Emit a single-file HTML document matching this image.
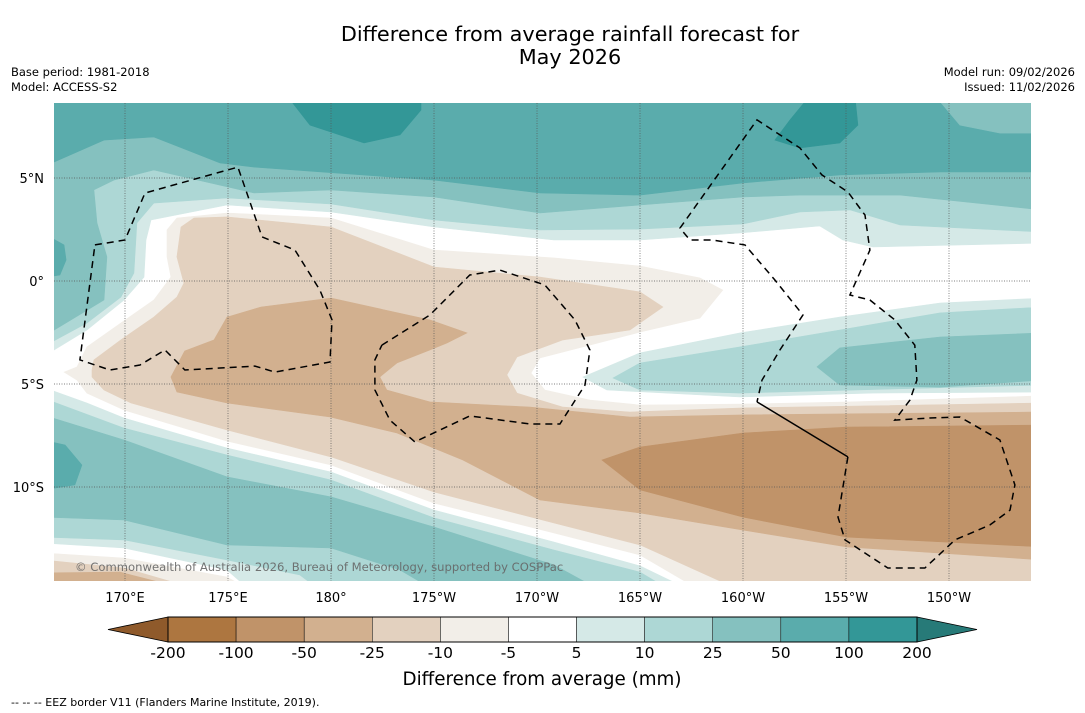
<!DOCTYPE html>
<html><head><meta charset="utf-8"><title>Difference from average rainfall forecast</title>
<style>
html,body{margin:0;padding:0;background:#fff;}
svg{display:block;font-family:"DejaVu Sans","Liberation Sans",sans-serif;}
</style></head>
<body>
<svg id="chart" width="1085" height="713" viewBox="0 0 1085 713" xmlns="http://www.w3.org/2000/svg">
<rect width="1085" height="713" fill="#fff"/>
<text x="570" y="41" font-size="20.8" text-anchor="middle" fill="#000">Difference from average rainfall forecast for</text>
<text x="570" y="64" font-size="20.8" text-anchor="middle" fill="#000">May 2026</text>
<text x="11" y="76" font-size="11.5" fill="#000">Base period: 1981-2018</text>
<text x="11" y="91" font-size="11.5" fill="#000">Model: ACCESS-S2</text>
<text x="1075" y="76" font-size="11.5" text-anchor="end" fill="#000">Model run: 09/02/2026</text>
<text x="1075" y="91" font-size="11.5" text-anchor="end" fill="#000">Issued: 11/02/2026</text>
<defs><clipPath id="mapclip"><rect x="54" y="103" width="977" height="478"/></clipPath></defs>
<g id="map" clip-path="url(#mapclip)"></g>
<g id="axes"></g>
<g id="cbar"></g>
<text x="542" y="685" font-size="18.3" text-anchor="middle" fill="#000">Difference from average (mm)</text>
<text x="11" y="706" font-size="11" fill="#000">--  --  -- EEZ border V11 (Flanders Marine Institute, 2019).</text>
</svg>
<script>
// ---- colour scale data ----
const levels = [-200,-100,-50,-25,-10,-5,5,10,25,50,100,200];
const levelColors = ["#ad7640","#c09369","#d2b08f","#e3d1bf","#f2eee8","#ffffff","#d5e9e7","#add7d5","#85c1bf","#5aacac","#339797"];
const extendLowColor = "#8f5a2b";
const extendHighColor = "#277a78";
const lonTicks = [170,175,180,185,190,195,200,205,210];
const lonTickLabels = ["170°E","175°E","180°","175°W","170°W","165°W","160°W","155°W","150°W"];
const latTicks = [5,0,-5,-10];
const latTickLabels = ["5°N","0°","5°S","10°S"];

// ---- contour regions, [lon(0-360), lat] ----
const north5 = [[166,9],[214.5,9],[214.5,1.84],[206.31,1.65],[204.85,1.99],[203.73,2.67],[199.85,2.33],[195,1.99],[190.82,1.99],[185,2.62],[180,3.35],[174.95,3.69],[171.26,2.96],[171.02,1.99],[170.92,0.19],[169.95,-0.92],[168.15,-2.38],[166,-3.69]];
const north10 = [[166,9],[214.5,9],[214.5,2.38],[207.62,2.72],[205.19,3.45],[202.76,3.35],[200,2.77],[195,2.52],[190.14,2.48],[185,2.96],[180,3.74],[174.95,4.03],[171.4,3.78],[170.58,2.82],[170.43,0.39],[169.8,-0.78],[168.15,-2.04],[166,-3.2]];
const north25 = [[166,9],[214.5,9],[214.5,3.45],[207.62,4.17],[202.76,4.17],[200,4.08],[195,3.69],[190.14,3.3],[185,4.08],[180,4.42],[176.26,4.27],[171.4,5.39],[169.46,4.9],[168.49,4.42],[168.64,2.82],[169.12,1.17],[168.98,-0.92],[166,-2.72]];
const north50 = [[166,9],[214.5,9],[214.5,5.29],[209.56,5.29],[204.7,5.15],[200,4.76],[195,4.17],[190.14,4.27],[185,4.9],[176.26,5.53],[174.61,5.73],[173.01,6.36],[171.4,6.99],[168.98,6.84],[166,5.53]];
const west50 = [[166,2.33],[167.04,1.75],[167.14,1.02],[166.84,0.29],[166,0.15]];
const northEast25 = [[209.32,9],[210.53,7.57],[212.47,7.18],[214.5,7.18],[214.5,9]];
const north100a = [[177.86,9],[178.98,7.57],[181.6,6.7],[183.35,7.09],[184.37,8.3],[184.37,9]];
const north100b = [[203.25,9],[202.28,7.82],[201.55,6.84],[202.76,6.46],[204.7,6.7],[205.58,7.57],[205.43,9]];
const brown5 = [[167.04,-4.42],[167.67,-4.17],[168.15,-3.2],[169.8,-2.04],[171.4,-0.92],[172.23,0.19],[172.04,1.17],[172.04,2.48],[172.52,3.06],[174.95,3.3],[180,3.06],[185,1.5],[190.82,1.12],[195,0.73],[197.91,0.15],[199.02,-0.44],[197.91,-1.8],[195,-2.48],[192.57,-3.11],[190.14,-3.74],[189.71,-4.47],[190.38,-5.29],[192.57,-5.78],[195,-6.02],[200,-5.97],[205.19,-5.87],[214.5,-5.58],[214.5,-15],[197.91,-15],[195,-13.3],[190.82,-12.23],[185,-10.78],[180,-8.93],[174.95,-7.77],[169.95,-6.26],[168.15,-5.44],[167.67,-4.81]];
const brown10 = [[168.4,-4.32],[168.49,-3.83],[169.8,-2.86],[171.4,-1.75],[172.52,-0.78],[172.86,-0.1],[172.52,1.17],[172.72,2.62],[173.35,3.06],[174.95,3.11],[180,2.62],[185,0.68],[190.14,0.19],[195,-0.53],[196.11,-1.26],[194.51,-2.38],[191.26,-2.86],[189.03,-3.69],[188.54,-4.56],[189.03,-5.44],[191.26,-6.12],[194.51,-6.36],[200,-6.16],[214.5,-5.92],[214.5,-15],[199.85,-15],[195,-12.81],[190.82,-11.75],[185,-10.24],[180,-8.54],[174.95,-7.23],[170.29,-5.92],[168.98,-5.29],[168.4,-4.66]];
const brown25 = [[172.23,-4.66],[172.9,-3.4],[174.32,-2.86],[174.95,-1.75],[176.6,-1.26],[180,-0.83],[184.8,-1.89],[186.6,-2.52],[185.63,-3.01],[184.8,-3.35],[183.2,-3.98],[182.37,-4.66],[182.71,-5.29],[184.8,-5.87],[189.66,-6.12],[194.51,-6.6],[200,-6.5],[214.5,-6.36],[214.5,-13.54],[205.04,-12.91],[200,-12.09],[195,-11.26],[190.14,-10.63],[186.4,-8.69],[183.2,-7.38],[179.95,-6.6],[174.95,-5.92],[172.52,-5.39]];
const brown50 = [[193.15,-8.69],[195,-8.06],[200,-7.38],[205.04,-7.09],[214.5,-6.99],[214.5,-12.91],[205.04,-12.43],[200,-11.46],[195,-10.14]];
const east5 = [[192.23,-4.66],[195,-3.49],[199.85,-2.52],[204.7,-1.75],[209.56,-1.07],[214.5,-0.83],[214.5,-5.39],[206.31,-5.44],[199.85,-5.63],[193.39,-5.29]];
const east10 = [[193.69,-4.71],[195,-3.98],[199.85,-3.2],[204.7,-2.38],[209.56,-1.55],[214.5,-1.26],[214.5,-5.05],[199.85,-5.44],[195,-5.29]];
const east25 = [[203.59,-4.17],[204.7,-3.25],[209.56,-2.72],[214.5,-2.52],[214.5,-4.81],[209.56,-5.15],[204.7,-5.05]];
const south5 = [[166,-5.15],[168.15,-5.92],[169.95,-6.65],[174.95,-8.11],[180,-9.27],[185,-11.12],[190.82,-12.67],[195,-13.83],[197.42,-15],[176.06,-15],[174.95,-14.03],[169.95,-12.96],[166,-12.72]];
const south10 = [[166,-5.68],[169.95,-7.14],[174.95,-8.45],[180,-9.66],[185,-11.5],[190.82,-13.06],[195,-14.13],[196.45,-15],[179.46,-15],[178.49,-14.27],[174.95,-13.54],[169.95,-12.57],[166,-12.43]];
const south25 = [[166,-6.5],[169.95,-7.72],[174.95,-9.51],[180,-10.48],[185,-11.94],[190.82,-13.78],[193.05,-15],[185,-15],[183.35,-14.03],[180,-12.96],[174.95,-12.81],[169.95,-11.6],[166,-11.46]];
const south50 = [[166,-7.72],[167.09,-7.96],[167.91,-8.93],[167.57,-9.9],[166,-10.14]];
const corner5 = [[166,-13.2],[169.95,-13.45],[174.95,-14.37],[176.06,-15],[166,-15]];
const corner10 = [[166,-13.54],[169.95,-13.93],[173.64,-15],[166,-15]];
const corner25 = [[166,-14.17],[169.75,-14.13],[173.15,-15],[166,-15]];

// ---- EEZ borders ----
const eezTuvalu = [[168.54,1.75],[170,1.99],[170.97,4.27],[175.48,5.53],[176.65,2.14],[178.25,1.5],[179.46,-0.44],[180.05,-1.89],[179.95,-3.93],[177.28,-4.42],[176.31,-4.13],[172.91,-4.32],[171.94,-3.35],[170.73,-4.08],[169.27,-4.32],[167.81,-3.83],[168.54,1.75]];
const eezTokelau = [[182.47,-3.11],[184.8,-1.65],[186.74,0.29],[188.2,0.53],[190.38,-0.19],[191.84,-1.89],[192.57,-3.35],[192.33,-5.05],[191.11,-6.94],[189.66,-6.94],[186.74,-6.55],[184.07,-7.81],[182.86,-6.75],[182.13,-5.29],[182.13,-3.83],[182.47,-3.11]];
const eezEast = [[205.09,-8.54],[204.61,-11.46],[204.95,-12.57],[207.03,-13.93],[208.83,-13.93],[210.29,-12.57],[211.99,-11.84],[212.96,-11.12],[213.2,-9.9],[212.47,-7.72],[210.53,-6.6],[209.07,-6.65],[207.37,-6.75],[208.1,-5.78],[208.44,-4.81],[208.34,-3.11],[207.37,-1.89],[206.16,-0.92],[205.19,-0.68],[206.16,1.5],[205.92,3.2],[205.09,4.32],[203.83,5.15],[202.76,6.46],[200.68,7.82],[196.94,2.57],[197.42,1.99],[198.49,1.99],[200.09,1.75],[201.55,0.05],[202.91,-1.65],[201.79,-3.35],[200.92,-4.81],[200.68,-5.87]];
const eezSolid = [[200.68,-5.87],[205.09,-8.54]];

// ---- axis functions ----
const X0 = 54, X1 = 1031, Y0 = 103, Y1 = 581;
const PX_PER_DEG = 20.6;
function xOf(lon){ return 125 + (lon - 170) * PX_PER_DEG; }
function yOf(lat){ return 281 - lat * PX_PER_DEG; }
function pts(arr){ return arr.map(p => xOf(p[0]).toFixed(1) + "," + yOf(p[1]).toFixed(1)).join(" "); }

const NS = "http://www.w3.org/2000/svg";
const map = document.getElementById("map");
const axes = document.getElementById("axes");
const cbar = document.getElementById("cbar");
function mk(tag, attrs, parent){
  const e = document.createElementNS(NS, tag);
  for (const k in attrs) e.setAttribute(k, attrs[k]);
  parent.appendChild(e);
  return e;
}
function colorFor(level){ return levelColors[levels.indexOf(level)]; }

const bg = mk("rect", {x:X0, y:Y0, width:X1-X0, height:Y1-Y0, fill:"#ffffff"}, map);



const layers = [
  ["north-band-5-10", north5, 5], ["north-band-10-25", north10, 10], ["north-band-25-50", north25, 25],
  ["north-band-50-100", north50, 50], ["west-band-50-100", west50, 50], ["northeast-band-25-50", northEast25, 25],
  ["north-band-100-200-a", north100a, 100], ["north-band-100-200-b", north100b, 100],
  ["brown-band-minus5", brown5, -10], ["brown-band-minus10", brown10, -25], ["brown-band-minus25", brown25, -50],
  ["brown-band-minus50", brown50, -100],
  ["east-band-5-10", east5, 5], ["east-band-10-25", east10, 10], ["east-band-25-50", east25, 25],
  ["south-band-5-10", south5, 5], ["south-band-10-25", south10, 10], ["south-band-25-50", south25, 25], ["south-band-50-100", south50, 50],
  ["corner-band-minus5", corner5, -10], ["corner-band-minus10", corner10, -25], ["corner-band-minus25", corner25, -50]
];
layers.forEach(L => {
  const p = mk("polygon", {points: pts(L[1]), fill: colorFor(L[2]), stroke: colorFor(L[2]), "stroke-width": 0.6}, map);
  
  
});

lonTicks.forEach((lon, i) => {
  const g = mk("line", {x1:xOf(lon), x2:xOf(lon), y1:Y0, y2:Y1, stroke:"#555", "stroke-width":0.7, "stroke-dasharray":"1,1.5"}, map);
  
  
  const t = mk("text", {x:xOf(lon), y:602, "font-size":13, "text-anchor":"middle", fill:"#000"}, axes);
  t.textContent = lonTickLabels[i];
  
  
});
latTicks.forEach((lat, i) => {
  const g = mk("line", {x1:X0, x2:X1, y1:yOf(lat), y2:yOf(lat), stroke:"#555", "stroke-width":0.7, "stroke-dasharray":"1,1.5"}, map);
  
  
  const t = mk("text", {x:44, y:yOf(lat)+5, "font-size":13, "text-anchor":"end", fill:"#000"}, axes);
  t.textContent = latTickLabels[i];
  
  
});

[["eez-border-west", eezTuvalu], ["eez-border-central", eezTokelau], ["eez-border-east", eezEast]].forEach(E => {
  const l = mk("polyline", {points: pts(E[1]), fill:"none", stroke:"#000", "stroke-width":1.5, "stroke-dasharray":"7,5"}, map);
  
  
});
const sl = mk("polyline", {points: pts(eezSolid), fill:"none", stroke:"#000", "stroke-width":1.5}, map);



const cr = mk("text", {x:75, y:571, "font-size":11.6, fill:"#666", "fill-opacity":0.9}, map);
cr.textContent = "© Commonwealth of Australia 2026, Bureau of Meteorology, supported by COSPPac";



const CB_X0 = 168, CB_X1 = 917, CB_Y0 = 617, CB_Y1 = 642;
const nSeg = levelColors.length;
const segW = (CB_X1 - CB_X0) / nSeg;
const lowTri = mk("polygon", {points: `${CB_X0},${CB_Y0} ${CB_X0-60},${(CB_Y0+CB_Y1)/2} ${CB_X0},${CB_Y1}`, fill: extendLowColor, stroke:"#000", "stroke-width":0.8}, cbar);


const highTri = mk("polygon", {points: `${CB_X1},${CB_Y0} ${CB_X1+60},${(CB_Y0+CB_Y1)/2} ${CB_X1},${CB_Y1}`, fill: extendHighColor, stroke:"#000", "stroke-width":0.8}, cbar);


levelColors.forEach((c, i) => {
  const r = mk("rect", {x: CB_X0 + i*segW, y: CB_Y0, width: segW, height: CB_Y1-CB_Y0, fill: c, stroke:"#000", "stroke-width":0.5}, cbar);
  
  
});
const frame = mk("rect", {x: CB_X0, y: CB_Y0, width: CB_X1-CB_X0, height: CB_Y1-CB_Y0, fill:"none", stroke:"#000", "stroke-width":1}, cbar);


levels.forEach((v, i) => {
  const t = mk("text", {x: CB_X0 + i*segW, y: 658, "font-size":15.5, "text-anchor":"middle", fill:"#000"}, cbar);
  t.textContent = String(v);
  
  
});
</script>
</body></html>
